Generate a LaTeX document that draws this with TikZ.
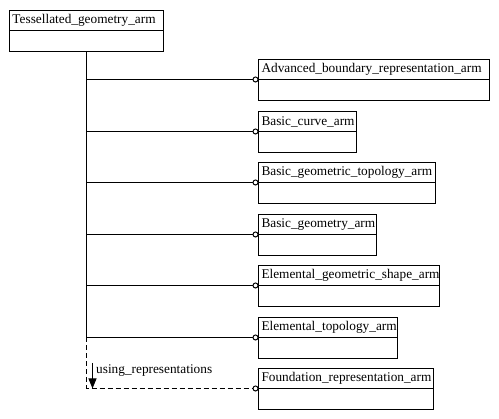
\documentclass[tikz,border=0pt]{standalone}
\usepackage{fontspec}
\setmainfont{Liberation Serif}
\usetikzlibrary{arrows.meta}

\tikzset{
  hdr/.style={draw, line width=1pt, outer sep=0pt, anchor=north west, minimum height=20pt,
    inner xsep=3pt, inner ysep=0pt, align=left, font=\fontsize{13.3}{14}\selectfont},
  bdy/.style={draw, line width=1pt, outer sep=0pt, anchor=north, minimum height=21pt},
  link/.style={line width=1pt, -{Circle[open, length=6pt, width=6pt]}},
}

\begin{document}
\begin{tikzpicture}[x=1pt, y=-1pt, >={Triangle[length=10pt, width=8pt]}]
        \useasboundingbox (0, 0) rectangle (499, 419);

        % main schema
        \node[hdr, text width=148pt] (tes) at (9.5, 10.5) {Tessellated\_geometry\_arm};
        \node[bdy, minimum width=154pt] (tesb) at (tes.south) {};

        % referenced schemas
        \node[hdr, text width=225pt] (adv) at (258.5, 59.5) {Advanced\_boundary\_representation\_arm};
        \node[bdy, minimum width=231pt] (advb) at (adv.south) {};
        \node[hdr, text width=92pt] (crv) at (258.5, 111.5) {Basic\_curve\_arm};
        \node[bdy, minimum width=98pt] (crvb) at (crv.south) {};
        \node[hdr, text width=171pt] (bgt) at (258.5, 162.5) {Basic\_geometric\_topology\_arm};
        \node[bdy, minimum width=177pt] (bgtb) at (bgt.south) {};
        \node[hdr, text width=112pt] (geo) at (258.5, 214.5) {Basic\_geometry\_arm};
        \node[bdy, minimum width=118pt] (geob) at (geo.south) {};
        \node[hdr, text width=175pt] (egs) at (258.5, 265.5) {Elemental\_geometric\_shape\_arm};
        \node[bdy, minimum width=181pt] (egsb) at (egs.south) {};
        \node[hdr, text width=133pt] (etp) at (258.5, 317.5) {Elemental\_topology\_arm};
        \node[bdy, minimum width=139pt] (etpb) at (etp.south) {};
        \node[hdr, text width=169pt] (fnd) at (258.5, 368.5) {Foundation\_representation\_arm};
        \node[bdy, minimum width=175pt] (fndb) at (fnd.south) {};

        % trunk
        \coordinate (tr) at (tesb.south);
        \coordinate (dv) at (86.5, 388.5);
        \draw[line width=1pt] (tr) -- (tr |- etp.south);

        \draw[link] (tr |- adv.south) -- (adv.south west);
        \draw[link] (tr |- crv.south) -- (crv.south west);
        \draw[link] (tr |- bgt.south) -- (bgt.south west);
        \draw[link] (tr |- geo.south) -- (geo.south west);
        \draw[link] (tr |- egs.south) -- (egs.south west);
        \draw[link] (tr |- etp.south) -- (etp.south west);

        \draw[line width=1pt, dash pattern=on 5pt off 3pt, -{Circle[open, length=6pt, width=6pt]}]
          (tr |- etp.south) -- (dv) -- (fnd.south west);

        % usage arrow
        \coordinate (ua) at (92.5, 363);
        \draw[->, line width=1pt] (ua) -- (ua |- fnd.south);
        \node[anchor=west, inner sep=0pt, font=\fontsize{13.3}{14}\selectfont] (use) at (96, 371) {using\_representations};
      \end{tikzpicture}
\end{document}
